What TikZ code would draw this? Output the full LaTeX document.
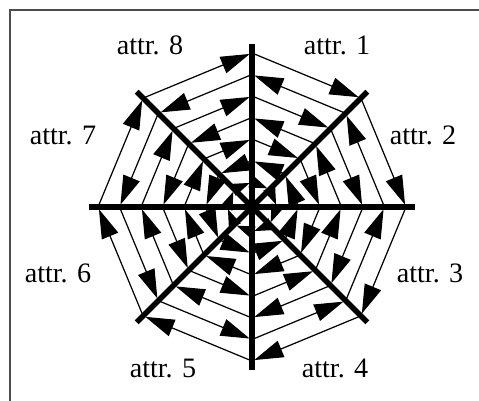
\documentclass[tikz,border=0pt]{standalone}
\usepackage{fontspec}
\setmainfont{Liberation Serif}
\usetikzlibrary{arrows.meta}

\begin{document}
\begin{tikzpicture}[
  x=0.02cm, y=0.02cm,
  axis/.style={line width=3.2pt},
  chord/.style={line width=0.7pt, -{Triangle[length=0.58cm, width=0.35cm]}, shorten >=1.4pt},
  innerchord/.style={chord, -{Triangle[length=0.36cm, width=0.25cm]}},
  lbl/.style={font=\fontsize{16}{19}\selectfont, inner sep=0pt}
]

\useasboundingbox (0,0) rectangle (479,400);
\draw[gray!60!black, line width=0.8pt] (10,-10) -- (10,390) -- (490,390);

\begin{scope}[shift={(252,193)}]
\coordinate (c) at (0,0);
\foreach \j in {0,...,7}{
  \coordinate (ax\j) at ({90-45*\j}:163);
  \foreach \k in {0,...,6}{
    \coordinate (v\j-\k) at ({90-45*\j}:{154-21.5*\k});
  }
}
\end{scope}

\foreach \i in {1,...,8}{
  \pgfmathtruncatemacro\s{\i-1}
  \pgfmathtruncatemacro\e{mod(\i,8)}
  \foreach \k in {0,...,5}{
    \ifodd\k
      \draw[chord] (v\e-\k) -- (v\s-\k);
    \else
      \draw[chord] (v\s-\k) -- (v\e-\k);
    \fi
  }
  \draw[innerchord] (v\s-6) -- (v\e-6);
}

\foreach \j in {0,...,3}{
  \pgfmathtruncatemacro\o{\j+4}
  \draw[axis] (ax\j) -- (ax\o);
}

\node[lbl] (a1) at (337,355) {attr. 1};
\node[lbl] (a2) at (423,265) {attr. 2};
\node[lbl] (a3) at (430,127) {attr. 3};
\node[lbl] (a4) at (335,32) {attr. 4};
\node[lbl] (a5) at (163,32) {attr. 5};
\node[lbl] (a6) at (58,127) {attr. 6};
\node[lbl] (a7) at (63,265) {attr. 7};
\node[lbl] (a8) at (150,355) {attr. 8};

\end{tikzpicture}
\end{document}
